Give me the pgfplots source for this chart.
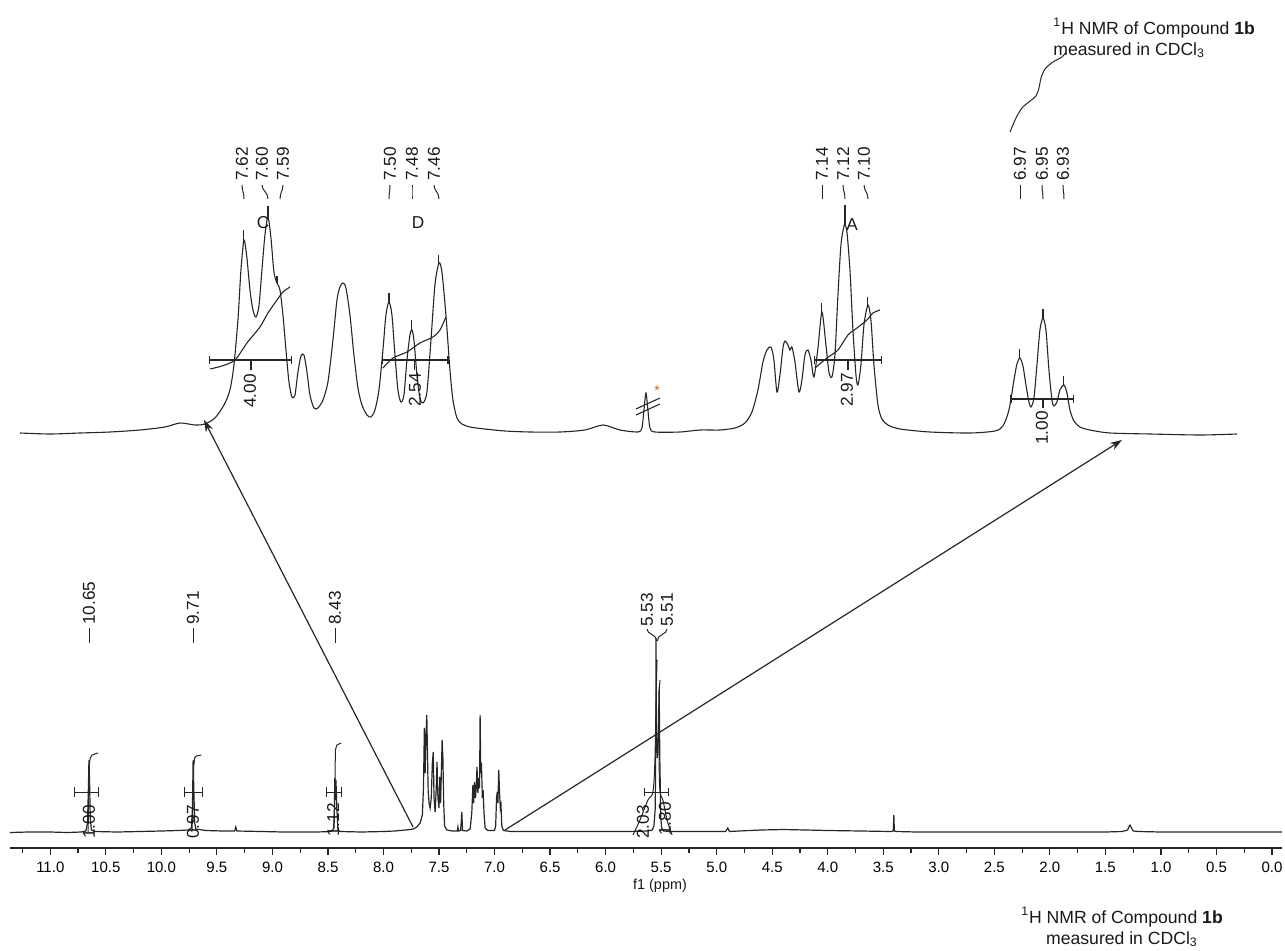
\documentclass[border=0pt]{standalone}
\usepackage{fontspec}
\setmainfont{Liberation Sans}
\usepackage{pgfplots}
\pgfplotsset{compat=1.18}
\usetikzlibrary{arrows.meta}
\newcommand{\pk}{\fontsize{8.6}{10}\selectfont}
\newcommand{\ttl}{\fontsize{8.8}{10.5}\selectfont}
\colorlet{ln}{black!85}
% inset helpers: pixel readings -> ppm / height
\newcommand{\ins}[1]{\addplot[ln, line width=0.55pt, forget plot] table[row sep=\\, header=false, x expr={(9311.8-\thisrowno{0})/1190}, y expr={435-\thisrowno{1}}] {#1};}
\newcommand{\inssm}[1]{\addplot[ln, line width=0.55pt, smooth, tension=0.45, forget plot] table[row sep=\\, header=false, x expr={(9311.8-\thisrowno{0})/1190}, y expr={435-\thisrowno{1}}] {#1};}
\newcommand{\insbar}[1]{\addplot[ln, line width=0.55pt, mark=|, mark size=2pt, mark options={solid,line width=0.55pt}, forget plot] table[row sep=\\, header=false, x expr={(9311.8-\thisrowno{0})/1190}, y expr={435-\thisrowno{1}}] {#1};}
\begin{document}
\begin{tikzpicture}
\useasboundingbox (0,0) rectangle (642.5pt,475pt);
% ================= main spectrum =================
\begin{axis}[at={(5pt,51pt)}, anchor=south west, scale only axis,
  width=636pt, height=150pt,
  xmin=-0.09, xmax=11.363, ymin=0, ymax=300, x dir=reverse,
  axis x line*=bottom, axis y line=none, clip=false,
  axis line style={ln, line width=0.6pt},
  xtick={0,0.5,1,1.5,2,2.5,3,3.5,4,4.5,5,5.5,6,6.5,7,7.5,8,8.5,9,9.5,10,10.5,11},
  minor xtick={0.25,0.75,1.25,1.75,2.25,2.75,3.25,3.75,4.25,4.75,5.25,5.75,6.25,6.75,7.25,7.75,8.25,8.75,9.25,9.75,10.25,10.75,11.25},
  tick align=outside, major tick length=3.5pt, minor tick length=2.5pt,
  tick style={ln, line width=0.6pt},
  xticklabel style={font=\fontsize{7.5}{9}\selectfont, /pgf/number format/.cd, fixed, fixed zerofill, precision=1, assume math mode=true},
]
\addplot[ln, line width=0.6pt] coordinates {
(11.363,15.5) (11.2,16) (11.0,16) (10.85,15.5) (10.72,16) (10.68,17) (10.665,25) (10.657,60) (10.652,88) (10.647,70) (10.64,30) (10.63,18) (10.6,16.5) (10.4,16) (10.2,16.5) (10.0,17) (9.85,17.5) (9.76,18) (9.73,20) (9.72,40) (9.714,88) (9.708,60) (9.70,25) (9.69,19) (9.6,17.5) (9.45,17) (9.34,17) (9.33,21) (9.32,17) (9.1,16.5) (8.9,16) (8.6,16) (8.47,16.5) (8.445,20) (8.438,70) (8.433,50) (8.428,68) (8.42,40) (8.41,18) (8.39,16.5) (8.2,16) (8.0,16.5) (7.9,17) (7.8,18) (7.73,19) (7.7,21) (7.67,25) (7.65,33) (7.64,60) (7.632,120) (7.625,75) (7.618,110) (7.61,133) (7.604,95) (7.598,58) (7.59,45) (7.58,40) (7.57,50) (7.56,85) (7.552,96) (7.545,50) (7.535,36) (7.525,60) (7.518,86) (7.51,50) (7.50,40) (7.493,71) (7.486,45) (7.478,80) (7.472,108) (7.465,90) (7.458,45) (7.45,22) (7.43,18) (7.38,17) (7.335,17) (7.33,21) (7.325,17) (7.305,17.5) (7.295,36) (7.288,17.5) (7.25,17) (7.22,19) (7.205,35) (7.195,63) (7.188,45) (7.18,66) (7.172,50) (7.165,60) (7.158,81) (7.15,55) (7.142,70) (7.135,60) (7.13,133) (7.124,75) (7.118,85) (7.11,50) (7.103,58) (7.095,35) (7.085,20) (7.06,17.5) (7.0,17.5) (6.99,22) (6.982,50) (6.976,56) (6.97,45) (6.962,78) (6.955,55) (6.948,40) (6.942,43) (6.935,22) (6.92,17.5) (6.85,16.5) (6.6,16.5) (6.3,16.5) (6.0,16.5) (5.8,16.5) (5.62,17) (5.58,18) (5.565,22) (5.553,40) (5.548,120) (5.546,210) (5.542,120) (5.535,90) (5.525,110) (5.518,161) (5.512,90) (5.503,30) (5.495,20) (5.48,17) (5.4,16.5) (5.2,16.5) (4.92,16.5) (4.9,20) (4.885,16.5) (4.8,17) (4.6,18) (4.4,18.5) (4.2,18) (4.0,17.5) (3.7,17) (3.43,16.5) (3.41,17) (3.405,33) (3.40,17) (3.38,16.5) (3.2,16) (3.0,16) (2.5,16) (2.0,16) (1.5,16) (1.35,16.5) (1.30,18) (1.285,22) (1.278,23) (1.27,21) (1.25,17) (1.2,16.5) (1.0,16) (0.5,16) (0.0,16) (-0.09,16)
};
% integral curves
\addplot[ln, line width=0.5pt] coordinates {(10.66,16) (10.655,40) (10.652,81) (10.64,90) (10.625,93) (10.571,95)};
\addplot[ln, line width=0.5pt] coordinates {(9.725,16) (9.716,40) (9.71,80) (9.70,90) (9.685,92) (9.64,93)};
\addplot[ln, line width=0.5pt] coordinates {(8.45,20) (8.44,40) (8.433,98) (8.42,103) (8.40,104) (8.38,105)};
\addplot[ln, line width=0.5pt, smooth] coordinates {(5.754,13) (5.691,28) (5.619,48) (5.574,56) (5.556,88) (5.546,148) (5.537,188)};
\addplot[ln, line width=0.5pt, smooth] coordinates {(5.402,13) (5.447,28) (5.484,48) (5.51,56) (5.519,88) (5.519,148) (5.51,168)};
% integral bars
\addplot[ln, line width=0.5pt, mark=|, mark size=2.5pt] coordinates {(10.778,56) (10.562,56)};
\addplot[ln, line width=0.5pt] coordinates {(10.652,56) (10.652,48)};
\addplot[ln, line width=0.5pt, mark=|, mark size=2.5pt] coordinates {(9.788,56) (9.634,56)};
\addplot[ln, line width=0.5pt] coordinates {(9.714,56) (9.714,48)};
\addplot[ln, line width=0.5pt, mark=|, mark size=2.5pt] coordinates {(8.509,56) (8.374,56)};
\addplot[ln, line width=0.5pt] coordinates {(8.435,56) (8.435,48)};
\addplot[ln, line width=0.5pt, mark=|, mark size=2pt] coordinates {(5.646,56) (5.438,56)};
\end{axis}
% ================= inset (expansion 7.8 - 6.8 ppm) =================
\begin{axis}[at={(10pt,257.5pt)}, anchor=south west, scale only axis,
  width=608.5pt, height=150pt,
  xmin=6.7855, xmax=7.8082, x dir=reverse, ymin=0, ymax=300,
  hide axis, clip=false]
\inssm{20 433\\ 50 434\\ 80 433\\ 110 432\\ 140 430\\ 165 427\\ 180 423\\ 195 425\\ 205 424\\ 215 418\\ 224 405\\ 230 390\\ 234 365\\ 238 320\\ 241 270\\ 244 240\\ 247 258\\ 250 290\\ 253 310\\ 256 317\\ 259 306\\ 262 270\\ 265 235\\ 268 217\\ 271 238\\ 274 272\\ 277 283\\ 280 290\\ 283 315\\ 286 350\\ 289 382\\ 292 397\\ 295 395\\ 298 372\\ 301 356\\ 304 355\\ 307 372\\ 310 395\\ 314 408\\ 318 408\\ 323 400\\ 328 382\\ 333 340\\ 337 300\\ 340 287\\ 343 283\\ 346 288\\ 350 315\\ 354 355\\ 358 388\\ 362 405\\ 367 415\\ 371 417\\ 375 410\\ 379 390\\ 383 350\\ 386 315\\ 389 302\\ 392 315\\ 395 355\\ 398 390\\ 401 402\\ 404 395\\ 407 360\\ 410 335\\ 412 330\\ 414 340\\ 417 375\\ 420 398\\ 423 403\\ 427 392\\ 431 340\\ 435 285\\ 439 263\\ 442 272\\ 446 315\\ 450 370\\ 453 400\\ 457 418\\ 462 424\\ 470 427\\ 485 429\\ 505 431\\ 530 432\\ 560 432\\ 585 430\\ 603 425\\ 620 430\\ 638 432\\ 642 428\\ 644 410\\ 646 393\\ 648 410\\ 650 428\\ 655 432\\ 680 432\\ 700 430\\ 720 430\\ 735 428\\ 745 423\\ 752 412\\ 758 390\\ 763 362\\ 767 350\\ 771 347\\ 774 360\\ 777 392\\ 780 375\\ 783 348\\ 785 341\\ 788 345\\ 790 350\\ 792 347\\ 795 362\\ 799 392\\ 802 380\\ 805 355\\ 808 350\\ 811 360\\ 814 377\\ 818 348\\ 822 312\\ 826 345\\ 829 372\\ 832 377\\ 835 355\\ 838 295\\ 841 245\\ 844 226\\ 845 225\\ 847 232\\ 850 270\\ 853 330\\ 856 375\\ 858 385\\ 861 365\\ 864 325\\ 868 305\\ 871 320\\ 874 365\\ 878 405\\ 882 419\\ 888 425\\ 900 429\\ 930 432\\ 970 433\\ 995 431\\ 1003 426\\ 1009 410\\ 1014 380\\ 1017 364\\ 1020 358\\ 1023 366\\ 1026 385\\ 1029 402\\ 1031 407\\ 1034 398\\ 1037 365\\ 1040 330\\ 1043 318\\ 1046 330\\ 1049 370\\ 1052 400\\ 1054 406\\ 1057 402\\ 1060 390\\ 1064 385\\ 1067 393\\ 1070 410\\ 1074 421\\ 1080 427\\ 1090 430\\ 1110 433\\ 1150 434\\ 1200 435\\ 1237 434\\}
% peak-pick ticks
\ins{244 230\\ 244 240\\} \ins{268 206\\ 268 217\\} \ins{277 276\\ 277 283\\}
\ins{389 293\\ 389 302\\} \ins{412 320\\ 412 330\\} \ins{439 255\\ 439 263\\}
\ins{822 303\\ 822 312\\} \ins{845 205\\ 845 225\\} \ins{868 297\\ 868 305\\}
\ins{1020 349\\ 1020 358\\} \ins{1043 309\\ 1043 318\\} \ins{1064 376\\ 1064 385\\}
% integral curves
\inssm{210 369\\ 222 366\\ 235 360\\ 247 343\\ 260 327\\ 268 313\\ 277 300\\ 283 292\\ 290 287\\}
\inssm{383 368\\ 393 358\\ 407 352\\ 420 343\\ 433 337\\ 440 330\\ 446 317\\}
\inssm{815 368\\ 827 358\\ 838 350\\ 848 335\\ 857 328\\ 867 320\\ 873 313\\ 880 310\\}
% integral bars
\insbar{210 360\\ 292 360\\} \ins{251 360\\ 251 370\\}
\insbar{383 360\\ 448 360\\} \ins{415 360\\ 415 370\\}
\insbar{815 360\\ 882 360\\} \ins{848 360\\ 848 370\\}
\insbar{1011 399\\ 1074 399\\} \ins{1043 399\\ 1043 408\\}
% solvent-peak break marks
\ins{636 409\\ 660 398\\} \ins{636 415\\ 660 404\\}
\end{axis}
% ================= annotations (pixel coordinates) =================
\begin{scope}[x=0.5pt, y=-0.5pt, yshift=475pt]
\tikzset{every node/.style={inner sep=0pt, text=black!90}}
% arrows
\draw[ln, line width=0.6pt, -{Stealth[length=6pt,width=4pt]}] (413,827) -- (204,420);
\draw[ln, line width=0.6pt, -{Stealth[length=6pt,width=4pt]}] (505,830) -- (1122,440);
% main peak labels
\foreach \x/\t in {89/10.65, 193/9.71, 335/8.43} {
  \node[rotate=90, anchor=west, font=\pk] at (\x,625) {\t};
  \draw[ln, line width=0.5pt] (\x,628) -- (\x,643);
}
\node[rotate=90, anchor=west, font=\pk] at (647,627) {5.53};
\node[rotate=90, anchor=west, font=\pk] at (667,627) {5.51};
\draw[ln, line width=0.5pt] (647,629) .. controls (647,635) and (656,633) .. (656.5,641);
\draw[ln, line width=0.5pt] (667,629) .. controls (667,635) and (658,633) .. (657.5,641);
% main integral values
\node[rotate=90, font=\pk] at (89,822) {1.00};
\node[rotate=90, font=\pk] at (193,822) {0.97};
\node[rotate=90, font=\pk] at (333,820) {1.12};
\node[rotate=90, font=\pk] at (643,822) {2.03};
\node[rotate=90, font=\pk] at (665,819) {1.80};
% inset peak labels
\foreach \x/\p/\t in {242/244/7.62, 262/268/7.60, 283/280/7.59, 390/389/7.50, 412/412/7.48, 434/439/7.46, 822/822/7.14, 843/845/7.12, 864/868/7.10, 1020/1020/6.97, 1042/1043/6.95, 1063/1064/6.93} {
  \node[rotate=90, anchor=west, font=\pk] at (\x,181) {\t};
  \draw[ln, line width=0.5pt] (\x,185) .. controls (\x,191) and (\p,192) .. (\p,199);
}
% inset integral values
\node[rotate=90, font=\pk] at (250,391) {4.00};
\node[rotate=90, font=\pk] at (415,390) {2.54};
\node[rotate=90, font=\pk] at (847,390) {2.97};
\node[rotate=90, font=\pk] at (1042,428) {1.00};
% multiplet letters
\node[font=\pk] at (263,223) {C};
\node[font=\pk] at (418,223) {D};
\node[font=\pk] at (852,225) {A};
\node[font=\fontsize{7}{8}\selectfont, text=orange!80!black] at (657,391) {*};
% axis label
\node[font=\fontsize{7.2}{9}\selectfont] at (660,886) {f1 (ppm)};
% titles
\node[align=center, font=\ttl] at (1122,927) {\textsuperscript{1}H NMR of Compound \textbf{1b}\\measured in CDCl\textsubscript{3}};
\node[align=left, anchor=west, font=\ttl] at (1053,38) {\textsuperscript{1}H NMR of Compound \textbf{1b}\\measured in CDCl\textsubscript{3}};
\draw[ln, line width=0.5pt] plot[smooth] coordinates {(1010,132) (1016,118) (1022,108) (1030,101) (1036,96) (1039,88) (1041,78) (1045,69) (1053,62) (1062,57) (1066,52)};
\end{scope}
\end{tikzpicture}
\end{document}
